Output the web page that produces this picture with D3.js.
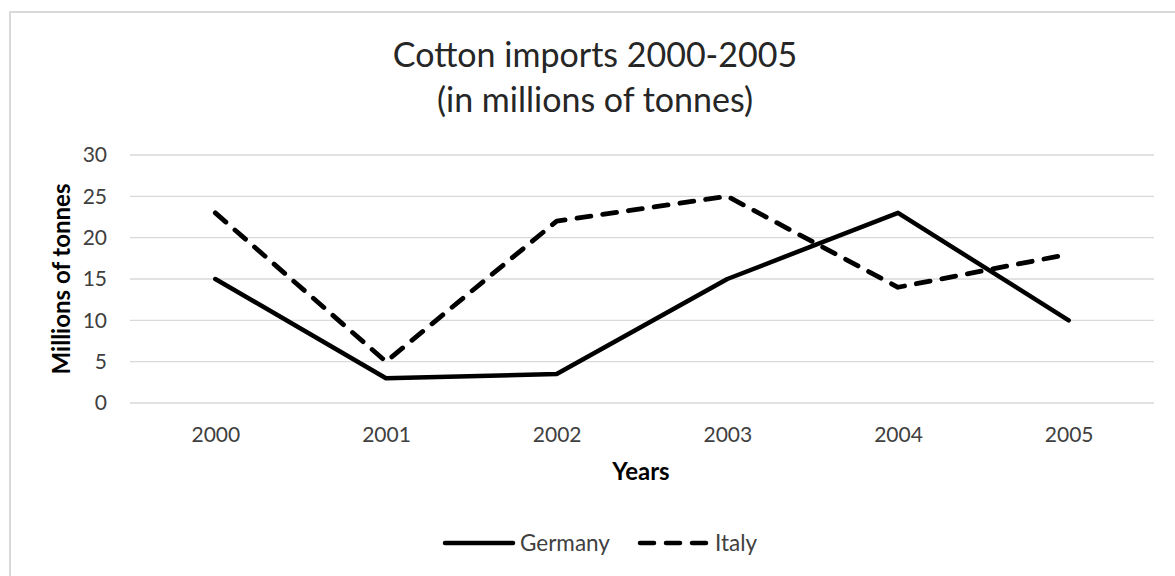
<!DOCTYPE html>
<html>
<head>
<meta charset="utf-8">
<script src="https://cdn.jsdelivr.net/npm/d3@7"></script>
<style>
  body { margin: 0; background: #fff; }
  text { font-family: Lato, "Open Sans", sans-serif; }
</style>
</head>
<body>
<div id="chart"></div>
<script>
var years = ["2000", "2001", "2002", "2003", "2004", "2005"];
var germany = [15, 3, 3.5, 15, 23, 10];
var italy = [23, 5, 22, 25, 14, 18];
var yTicks = [0, 5, 10, 15, 20, 25, 30];

var svgWidth = 1175;
var svgHeight = 576;

var margin = { top: 155, right: 21, bottom: 173, left: 130 };
var width = svgWidth - margin.left - margin.right;
var height = svgHeight - margin.top - margin.bottom;

var svg = d3.select("#chart")
  .append("svg")
  .attr("width", svgWidth)
  .attr("height", svgHeight);

// chart frame (cropped on the right and bottom)
svg.append("path")
  .attr("d", "M10,590 L10,12 L1190,12")
  .attr("fill", "none")
  .attr("stroke", "#d9d9d9")
  .attr("stroke-width", 2);

var chart = svg.append("g")
  .attr("transform", `translate(${margin.left}, ${margin.top})`);

var x = d3.scalePoint()
  .domain(years)
  .range([0, width])
  .padding(0.5);

var y = d3.scaleLinear()
  .domain([0, 30])
  .range([height, 0]);

// gridlines
chart.append("g")
  .selectAll("line")
  .data(yTicks)
  .enter()
  .append("line")
  .attr("x1", 0)
  .attr("x2", width)
  .attr("y1", d => y(d))
  .attr("y2", d => y(d))
  .attr("stroke", "#d9d9d9")
  .attr("stroke-width", 1.3);

// y axis
var leftAxis = d3.axisLeft(y).tickValues(yTicks).tickSize(0).tickPadding(23);
var gy = chart.append("g").call(leftAxis);
gy.select(".domain").remove();
gy.selectAll("text")
  .attr("font-size", "21px")
  .attr("fill", "#404040")
  .attr("font-family", "Lato");

// x axis
var bottomAxis = d3.axisBottom(x).tickSize(0).tickPadding(24);
var gx = chart.append("g")
  .attr("transform", `translate(0, ${height})`)
  .call(bottomAxis);
gx.select(".domain").remove();
gx.selectAll("text")
  .attr("font-size", "21px")
  .attr("fill", "#404040")
  .attr("font-family", "Lato");

// lines
var line = d3.line()
  .x((d, i) => x(years[i]))
  .y(d => y(d));

chart.append("path")
  .datum(germany)
  .attr("d", line)
  .attr("fill", "none")
  .attr("stroke", "#000")
  .attr("stroke-width", 4.5)
  .attr("stroke-linejoin", "round")
  .attr("stroke-linecap", "round");

chart.append("path")
  .datum(italy)
  .attr("d", line)
  .attr("fill", "none")
  .attr("stroke", "#000")
  .attr("stroke-width", 4.8)
  .attr("stroke-linejoin", "round")
  .attr("stroke-linecap", "round")
  .attr("stroke-dasharray", "14,12");

// title
svg.append("text")
  .attr("x", 595)
  .attr("y", 67)
  .attr("text-anchor", "middle")
  .attr("font-size", "34px")
  .attr("fill", "#262626")
  .text("Cotton imports 2000-2005");
svg.append("text")
  .attr("x", 595)
  .attr("y", 112)
  .attr("text-anchor", "middle")
  .attr("font-size", "34px")
  .attr("fill", "#262626")
  .text("(in millions of tonnes)");

// axis titles
svg.append("text")
  .attr("transform", "rotate(-90)")
  .attr("x", -279)
  .attr("y", 70)
  .attr("text-anchor", "middle")
  .attr("font-size", "24px")
  .attr("font-weight", "bold")
  .attr("fill", "#000")
  .text("Millions of tonnes");

svg.append("text")
  .attr("x", 641)
  .attr("y", 480)
  .attr("text-anchor", "middle")
  .attr("font-size", "24px")
  .attr("font-weight", "bold")
  .attr("fill", "#000")
  .text("Years");

// legend
var legendItems = [
  { name: "Germany", dash: null, x: 443 },
  { name: "Italy", dash: "14,12", x: 638 }
];
var legend = svg.append("g").attr("transform", "translate(0, 543)");
legendItems.forEach(function(item) {
  legend.append("line")
    .attr("x1", item.x + 2)
    .attr("x2", item.x + 70)
    .attr("y1", 0)
    .attr("y2", 0)
    .attr("stroke", "#000")
    .attr("stroke-width", 4.5)
    .attr("stroke-linecap", "round")
    .attr("stroke-dasharray", item.dash);
  legend.append("text")
    .attr("x", item.x + 77)
    .attr("y", 0)
    .attr("dy", "0.36em")
    .attr("font-size", "22.5px")
    .attr("fill", "#404040")
    .text(item.name);
});
</script>
</body>
</html>
